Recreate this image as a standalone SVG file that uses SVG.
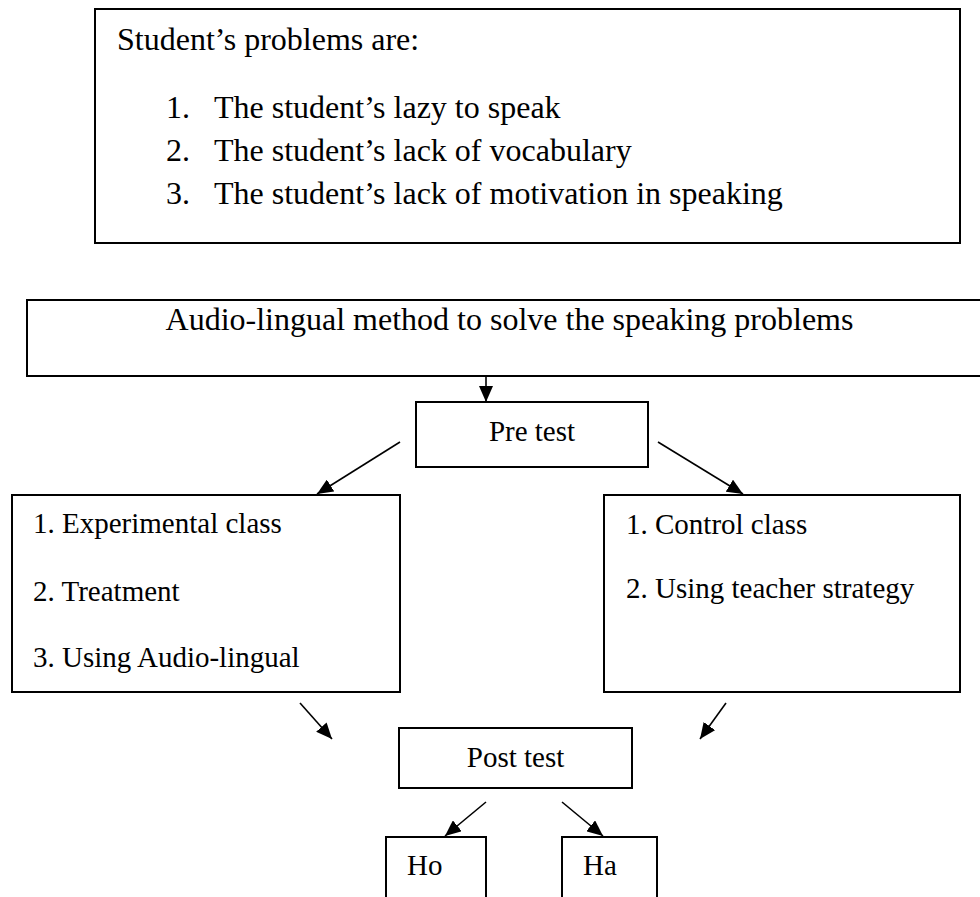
<svg xmlns="http://www.w3.org/2000/svg" width="980" height="897" viewBox="0 0 980 897">
<style>
.box{fill:#fff;stroke:#000;stroke-width:2}
.t{font-family:"Liberation Serif","Times New Roman",serif;fill:#000}
.big{font-size:32px}
.sm{font-size:29px}
.ln{stroke:#000;stroke-width:1.6;fill:none;marker-end:url(#ah)}
</style>
<defs>
<marker id="ah" markerUnits="userSpaceOnUse" markerWidth="16" markerHeight="14" refX="16" refY="7" orient="auto" viewBox="0 0 16 14">
<path d="M0,0 L16,7 L0,14 z" fill="#000"/>
</marker>
</defs>
<rect width="980" height="897" fill="#fff"/>
<g id="problems">
<rect class="box" x="95" y="9" width="865" height="234"/>
<text class="t big" x="117" y="50">Student’s problems are:</text>
<text class="t big" x="166" y="118">1.</text><text class="t big" x="214" y="118">The student’s lazy to speak</text>
<text class="t big" x="166" y="161">2.</text><text class="t big" x="214" y="161">The student’s lack of vocabulary</text>
<text class="t big" x="166" y="204">3.</text><text class="t big" x="214" y="204">The student’s lack of motivation in speaking</text>
</g>
<g id="method">
<path class="box" d="M985,300 H27 V376 H985"/>
<text class="t big" x="509.5" y="330" text-anchor="middle">Audio-lingual method to solve the speaking problems</text>
</g>
<g id="pretest">
<rect class="box" x="416" y="402" width="232" height="65"/>
<text class="t sm" x="532" y="441" text-anchor="middle">Pre test</text>
</g>
<g id="experimental">
<rect class="box" x="12" y="495" width="388" height="197"/>
<text class="t sm" x="33" y="533">1. Experimental class</text>
<text class="t sm" x="33" y="601">2. Treatment</text>
<text class="t sm" x="33" y="667">3. Using Audio-lingual</text>
</g>
<g id="control">
<rect class="box" x="604" y="495" width="356" height="197"/>
<text class="t sm" x="626" y="534">1. Control class</text>
<text class="t sm" x="626" y="598">2. Using teacher strategy</text>
</g>
<g id="posttest">
<rect class="box" x="399" y="728" width="233" height="60"/>
<text class="t sm" x="515.5" y="767" text-anchor="middle">Post test</text>
</g>
<g id="ho">
<path class="box" d="M386,900 V837 H486 V900"/>
<text class="t sm" x="407" y="875">Ho</text>
</g>
<g id="ha">
<path class="box" d="M562,900 V837 H657 V900"/>
<text class="t sm" x="583" y="875">Ha</text>
</g>
<g id="connectors">
<line class="ln" x1="486" y1="376" x2="486" y2="402"/>
<line class="ln" x1="400" y1="442" x2="317" y2="494"/>
<line class="ln" x1="658" y1="442" x2="743" y2="494"/>
<line class="ln" x1="300" y1="703" x2="332" y2="739"/>
<line class="ln" x1="726" y1="703" x2="700" y2="739"/>
<line class="ln" x1="486" y1="802" x2="445" y2="836"/>
<line class="ln" x1="562" y1="802" x2="603" y2="836"/>
</g>
</svg>
